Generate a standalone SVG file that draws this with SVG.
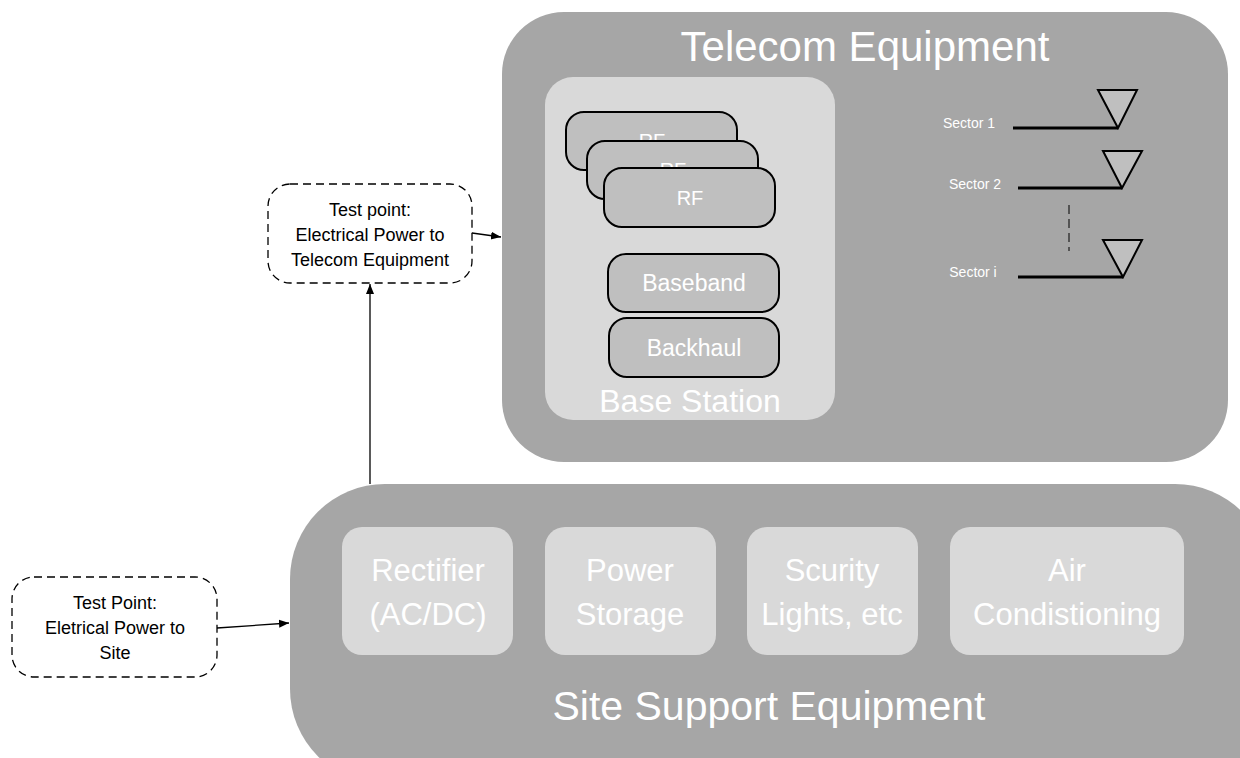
<svg xmlns="http://www.w3.org/2000/svg" width="1240" height="758" viewBox="0 0 1240 758">
<defs>
<style>
.big{fill:#a6a6a6}
.light{fill:#d9d9d9}
.mod{fill:#bfbfbf;stroke:#000;stroke-width:2}
.wt{fill:#fff;font-family:"Liberation Sans",Arial,sans-serif;text-anchor:middle}
.bt{fill:#000;font-family:"Liberation Sans",Arial,sans-serif;text-anchor:middle;font-size:18px}
.tp{fill:#fff;stroke:#000;stroke-width:1.3;stroke-dasharray:8,5}
.conn{stroke:#000;stroke-width:1.3;fill:none}
.ant{fill:#bfbfbf;stroke:#000;stroke-width:2}
.feed{stroke:#000;stroke-width:3}
</style>
<marker id="ah" viewBox="0 0 10 10" refX="10" refY="5" markerWidth="10" markerHeight="10" markerUnits="userSpaceOnUse" orient="auto">
<path d="M0,1 L10,5 L0,9 z" fill="#000"/>
</marker>
</defs>
<rect width="1240" height="758" fill="#fff"/>

<g id="telecom">
<rect class="big" x="502" y="12" width="726" height="450" rx="62"/>
<text class="wt" x="865" y="61" font-size="42">Telecom Equipment</text>
</g>

<g id="basestation">
<rect class="light" x="545" y="77" width="290" height="343" rx="28"/>
<text class="wt" x="690" y="412" font-size="32">Base Station</text>
</g>

<g id="rf1">
<rect class="mod" x="566" y="112" width="171" height="58" rx="18"/>
<text class="wt" x="652" y="148" font-size="20">RF</text>
</g>
<g id="rf2">
<rect class="mod" x="587" y="141" width="171" height="58" rx="18"/>
<text class="wt" x="673" y="177" font-size="20">RF</text>
</g>
<g id="rf3">
<rect class="mod" x="604" y="168" width="171" height="59" rx="18"/>
<text class="wt" x="690" y="205" font-size="20">RF</text>
</g>
<g id="baseband">
<rect class="mod" x="608" y="254" width="171" height="58" rx="18"/>
<text class="wt" x="694" y="291" font-size="23">Baseband</text>
</g>
<g id="backhaul">
<rect class="mod" x="609" y="318" width="170" height="59" rx="18"/>
<text class="wt" x="694" y="356" font-size="23">Backhaul</text>
</g>

<g id="sector1">
<text class="wt" x="969" y="128" font-size="14">Sector 1</text>
<line class="feed" x1="1013" y1="128" x2="1118" y2="128"/>
<polygon class="ant" points="1098,90 1137,90 1118,128"/>
</g>
<g id="sector2">
<text class="wt" x="975" y="189" font-size="14">Sector 2</text>
<line class="feed" x1="1018" y1="188" x2="1122" y2="188"/>
<polygon class="ant" points="1103,151 1142,151 1122,188"/>
</g>
<line x1="1069" y1="205" x2="1069" y2="251" stroke="#000" stroke-width="1" stroke-dasharray="9,5"/>
<g id="sectori">
<text class="wt" x="973" y="277" font-size="14">Sector i</text>
<line class="feed" x1="1018" y1="277" x2="1123" y2="277"/>
<polygon class="ant" points="1103,240 1142,240 1123,277"/>
</g>

<g id="sitesupport">
<rect class="big" x="290" y="484" width="980" height="300" rx="95"/>
<text class="wt" x="769" y="720" font-size="41">Site Support Equipment</text>
</g>
<g id="rectifier">
<rect class="light" x="342" y="527" width="171" height="128" rx="20"/>
<text class="wt" font-size="31"><tspan x="428" y="581">Rectifier</tspan><tspan x="428" y="625">(AC/DC)</tspan></text>
</g>
<g id="storage">
<rect class="light" x="545" y="527" width="171" height="128" rx="20"/>
<text class="wt" font-size="31"><tspan x="630" y="581">Power</tspan><tspan x="630" y="625">Storage</tspan></text>
</g>
<g id="security">
<rect class="light" x="747" y="527" width="171" height="128" rx="20"/>
<text class="wt" font-size="31"><tspan x="832" y="581">Scurity</tspan><tspan x="832" y="625">Lights, etc</tspan></text>
</g>
<g id="aircon">
<rect class="light" x="950" y="527" width="234" height="128" rx="20"/>
<text class="wt" font-size="31"><tspan x="1067" y="581">Air</tspan><tspan x="1067" y="625">Condistioning</tspan></text>
</g>

<g id="testpoint1">
<rect class="tp" x="268" y="184" width="204" height="99" rx="22"/>
<text class="bt"><tspan x="370" y="216">Test point:</tspan><tspan x="370" y="241">Electrical Power to</tspan><tspan x="370" y="266">Telecom Equipment</tspan></text>
</g>
<g id="testpoint2">
<rect class="tp" x="12" y="577" width="205" height="100" rx="22"/>
<text class="bt"><tspan x="115" y="609">Test Point:</tspan><tspan x="115" y="634">Eletrical Power to</tspan><tspan x="115" y="659">Site</tspan></text>
</g>

<g id="connectors">
<line class="conn" x1="472" y1="233" x2="501" y2="237" marker-end="url(#ah)"/>
<line class="conn" x1="370" y1="484" x2="370" y2="284" marker-end="url(#ah)"/>
<line class="conn" x1="217" y1="628" x2="289" y2="623" marker-end="url(#ah)"/>
</g>
</svg>
